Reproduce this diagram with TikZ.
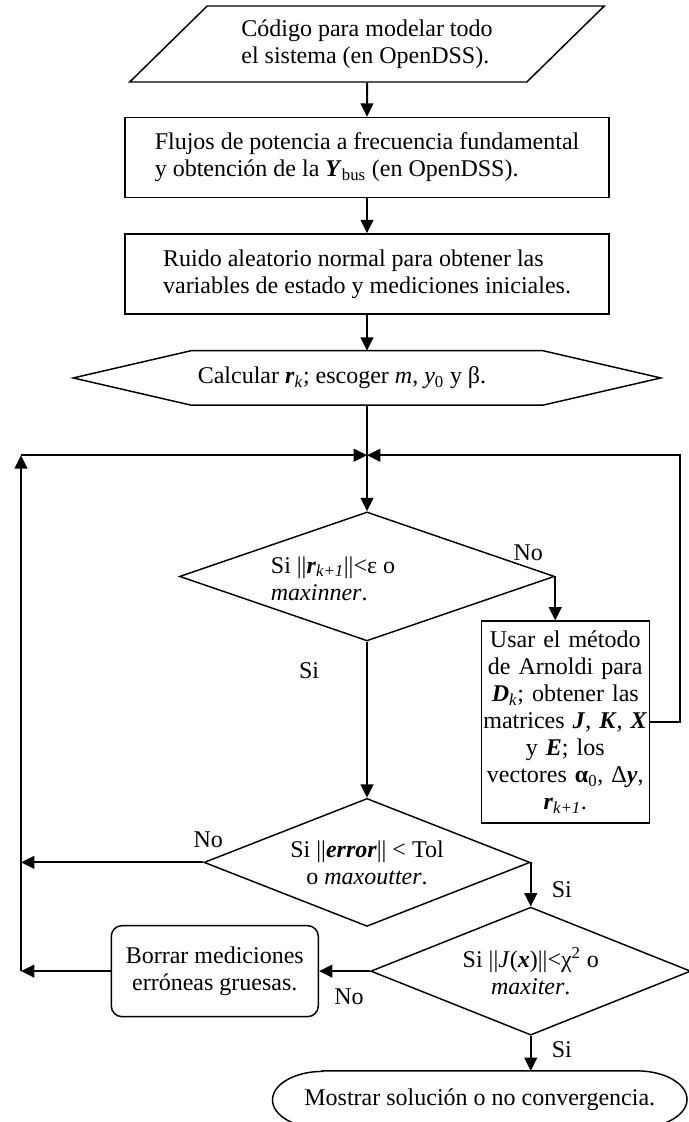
\documentclass[tikz,border=0pt]{standalone}
\usepackage{fontspec}
\setmainfont{Liberation Serif}
\usepackage{tikz}
\usetikzlibrary{shapes.geometric, arrows.meta, positioning, calc}

\newcommand{\bvec}[1]{\textbf{\textit{#1}}}

\begin{document}
\begin{tikzpicture}[
    x=0.75pt, y=-0.75pt,
    every node/.style={font=\fontsize{18pt}{20.25pt}\selectfont},
    inputbox/.style={trapezium, trapezium left angle=38.7, trapezium right angle=141.3, trapezium stretches=true, minimum width=356.25pt, minimum height=57pt, inner sep=0pt, align=left, draw=black, line width=1.1pt},
    process/.style={rectangle, minimum width=363pt, minimum height=60pt, align=left, draw=black, line width=1.1pt},
    prep/.style={rectangle, minimum width=440.25pt, minimum height=40.5pt, inner sep=0pt},
    decision/.style={diamond, aspect=2.5, inner sep=0pt, align=center, draw=black, line width=1.1pt},
    subproc/.style={rectangle, text width=124pt, minimum height=151.5pt, inner sep=1pt, align=center, draw=black, line width=1.1pt},
    removebox/.style={rectangle, rounded corners=8pt, minimum width=155.25pt, minimum height=68.25pt, align=center, draw=black, line width=1.1pt},
    terminal/.style={rectangle, minimum width=310.5pt, minimum height=42.75pt, inner sep=0pt},
    outline/.style={draw=black, line width=1.1pt},
    tag/.style={inner sep=0pt},
    joinline/.style={line width=1.5pt},
    arrow/.style={line width=1.5pt, -{Triangle[length=10pt, width=9.5pt]}},
]

    \useasboundingbox (0,0) rectangle (689,1122);

    % main column
    \node (code) [inputbox] at (367,44) {Código para modelar todo\\el sistema (en OpenDSS).};
    \node (flujos) [process, below=25.5pt of code] {Flujos de potencia a frecuencia fundamental\\y obtención de la \bvec{Y}\textsubscript{bus} (en OpenDSS).};
    \node (ruido) [process, below=26.25pt of flujos] {Ruido aleatorio normal para obtener las\\variables de estado y mediciones iniciales.};
    \node (calc) [prep, below=27pt of ruido, label={[xshift=-18.75pt]center:{Calcular \bvec{r}\textsubscript{\textit{k}}; escoger \textit{m}, \textit{y}\textsubscript{0} y β.}}] {};
    \draw [outline] (calc.west) -- ([xshift=88.5pt]calc.north west) -- ([xshift=-88.5pt]calc.north east)
        -- (calc.east) -- ([xshift=-88.5pt]calc.south east) -- ([xshift=88.5pt]calc.south west) -- cycle;

    \coordinate (join) at ($(calc.south)+(0,50)$);
    \coordinate (lx) at (21,0);
    \coordinate (rx) at (680,0);

    % decisions
    \node (dia1) [decision, minimum width=281.25pt, minimum height=96.75pt, below=42pt of join,
        label={[xshift=-25.5pt, yshift=-1.5pt, align=left]center:{Si ||\bvec{r}\textsubscript{\textit{k+1}}||<ε o\\\textit{maxinner}.}}] {};
    \node (arnoldi) [subproc, below=33pt of dia1.east, xshift=7.5pt] {Usar el método\\de Arnoldi para\\\bvec{D}\textsubscript{\textit{k}}; obtener las\\matrices \bvec{J}, \bvec{K}, \bvec{X}\\y \bvec{E}; los\\vectores \textbf{α}\textsubscript{0}, Δ\bvec{y},\\\bvec{r}\textsubscript{\textit{k+1}}.};
    \node (dia2) [decision, minimum width=244.5pt, minimum height=96pt, below=117pt of dia1] {Si ||\bvec{error}|| < Tol\\o \textit{maxoutter}.};
    \node (dia3) [decision, minimum width=240pt, minimum height=96pt, below=33pt of dia2.east] {Si ||\textit{J}(\bvec{x})||<χ\textsuperscript{2} o\\\textit{maxiter}.};
    \node (borrar) [removebox, left=38.25pt of dia3] {Borrar mediciones\\erróneas gruesas.};
    \node (term) [terminal, below=26.25pt of dia3.south, xshift=-38.25pt] {Mostrar solución o no convergencia.};
    \draw [outline] ([xshift=37.5pt]term.north west) -- ([xshift=-37.5pt]term.north east)
        arc[start angle=90, end angle=-90, x radius=37.5pt, y radius=21.375pt]
        -- ([xshift=37.5pt]term.south west)
        arc[start angle=270, end angle=90, x radius=37.5pt, y radius=21.375pt] -- cycle;

    % connectors
    \draw [arrow] (code) -- (flujos);
    \draw [arrow] (flujos) -- (ruido);
    \draw [arrow] (ruido) -- (calc);
    \draw [joinline] (calc) -- (join);
    \draw [arrow] (join) -- (dia1);
    \draw [arrow] (dia1.east) node [tag, xshift=-20.25pt, yshift=18pt] (no1) {No} -- (dia1.east |- arnoldi.north);
    \draw [arrow] (dia1.south) node [tag, xshift=-43.5pt, yshift=-21.75pt] (si1) {Si} -- (dia2.north);
    \draw [arrow] (arnoldi.east) -- (arnoldi.east -| rx) -- (join -| rx) -- (join);
    \draw [arrow] (dia2.west) node [tag, xshift=3.75pt, yshift=17.25pt] (no2) {No} -- (dia2.west -| lx);
    \draw [arrow] (dia2.east) node [tag, xshift=23.25pt, yshift=-20.25pt] (si2) {Si} -- (dia3.north);
    \draw [arrow] (dia3.west) node [tag, xshift=-15.75pt, yshift=-19.5pt] (no3) {No} -- (borrar.east);
    \draw [arrow] (borrar.west) -- (borrar.west -| lx);
    \draw [arrow] (borrar.west -| lx) -- (join -| lx);
    \draw [arrow] (join -| lx) -- (join);
    \draw [arrow] (dia3.south) node [tag, xshift=23.25pt, yshift=-10.5pt] (si3) {Si} -- (dia3.south |- term.north);

\end{tikzpicture}
\end{document}
